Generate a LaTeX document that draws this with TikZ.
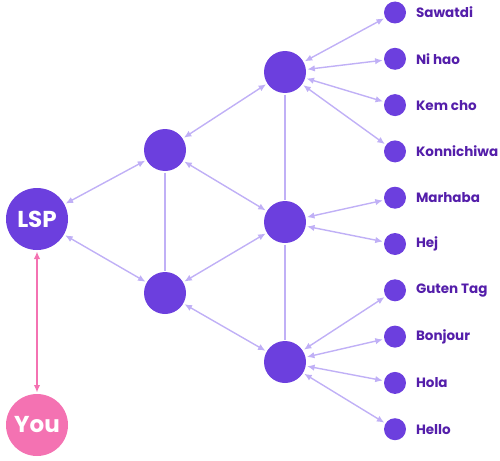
\documentclass[tikz,border=0pt]{standalone}
\usepackage{fontspec}
\setmainfont{Poppins}
\usepackage{tikz}
\usetikzlibrary{arrows.meta,positioning}
\definecolor{HubPurple}{RGB}{108,63,222}
\definecolor{LabelPurple}{RGB}{84,30,170}
\definecolor{EdgeLilac}{RGB}{192,176,246}
\definecolor{YouPink}{RGB}{244,114,178}

\begin{document}
\begin{tikzpicture}[x=1pt, y=-1pt,
		hub/.style={circle, fill=HubPurple, minimum size=42pt, inner sep=0pt, outer sep=1.5pt},
		bighub/.style={circle, fill=#1, minimum size=62pt, inner sep=0pt, outer sep=1.5pt,
			text=white, font=\bfseries\fontsize{23}{25}\selectfont},
		leaf/.style={circle, fill=HubPurple, minimum size=22pt, inner sep=0pt, outer sep=1.5pt},
		lbl/.style={right, text=LabelPurple, font=\bfseries\fontsize{13.5}{15}\selectfont},
		link/.style={EdgeLilac, line width=1.4pt, {Latex[length=7.5pt,width=6.5pt]}-{Latex[length=7.5pt,width=6.5pt]}},
		plain/.style={EdgeLilac, line width=1.4pt}]
	\useasboundingbox (0,0) rectangle (500,460);
	% hubs
	\node[bighub=HubPurple] (lsp) at (37,219) {LSP};
	\node[bighub=YouPink] (you) at (37,425) {You};
	\node[hub] (a1) at (165,150) {};
	\node[hub] (a2) at (165,293) {};
	\node[hub] (b1) at (285,72) {};
	\node[hub] (b2) at (285,222) {};
	\node[hub] (b3) at (285,362) {};
	% greetings
	\foreach \name/\word [count=\i from 0] in {s/Sawatdi, n/Ni hao, k/Kem cho, j/Konnichiwa,
			m/Marhaba, h/Hej, g/Guten Tag, b/Bonjour, o/Hola, e/Hello} {
		\node[leaf] (\name) at (395,{12.5+46.3*\i}) {};
		\node[lbl] at ([xshift=5pt]\name.east) {\word};
	}
	% links
	\draw[YouPink, line width=1.4pt, {Latex[length=7.5pt,width=6.5pt]}-{Latex[length=7.5pt,width=6.5pt]}] (lsp) -- (you);
	\draw[link] (lsp) -- (a1);
	\draw[link] (lsp) -- (a2);
	\draw[link] (a1) -- (b1);
	\draw[link] (a1) -- (b2);
	\draw[link] (a2) -- (b2);
	\draw[link] (a2) -- (b3);
	\draw[plain] (a1) -- (a2);
	\draw[plain] (b1) -- (b2);
	\draw[plain] (b2) -- (b3);
	\foreach \x in {s,n,k,j} \draw[link] (b1) -- (\x);
	\foreach \x in {m,h} \draw[link] (b2) -- (\x);
	\foreach \x in {g,b,o,e} \draw[link] (b3) -- (\x);
\end{tikzpicture}
\end{document}
